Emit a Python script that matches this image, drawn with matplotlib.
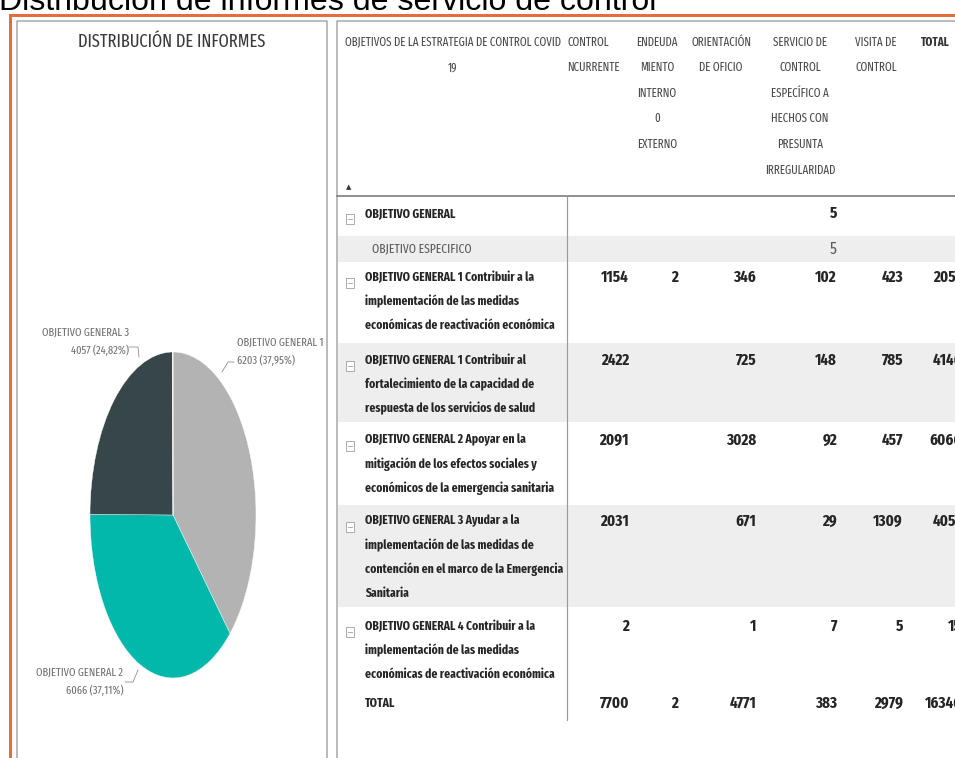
import matplotlib
matplotlib.use('Agg')
import matplotlib.pyplot as plt
from matplotlib import font_manager
from matplotlib.patches import Rectangle

# --- data -------------------------------------------------------------
titulo = 'Distribución de informes de servicio de control'
pie_titulo = 'DISTRIBUCIÓN DE INFORMES'
pie_objetivos = ['OBJETIVO GENERAL 1', 'OBJETIVO GENERAL 2', 'OBJETIVO GENERAL 3',
                 'OBJETIVO GENERAL 4', 'OBJETIVO GENERAL']
pie_informes = [6203, 6066, 4057, 15, 5]
pie_colores = ['#b3b3b3', '#01b8aa', '#374649', '#fd625e', '#f2c80f']

col_headers = ['OBJETIVOS DE LA ESTRATEGIA DE CONTROL COVID\n19',
               'CONTROL\nNCURRENTE',
               'ENDEUDA\nMIENTO\nINTERNO\n0\nEXTERNO',
               'ORIENTACIÓN\nDE OFICIO',
               'SERVICIO DE\nCONTROL\nESPECÍFICO A\nHECHOS CON\nPRESUNTA\nIRREGULARIDAD',
               'VISITA DE\nCONTROL',
               'TOTAL']

row_labels = [
    ['OBJETIVO GENERAL'],
    ['OBJETIVO ESPECIFICO'],
    ['OBJETIVO GENERAL 1 Contribuir a la', 'implementación de las medidas',
     'económicas de reactivación económica'],
    ['OBJETIVO GENERAL 1 Contribuir al', 'fortalecimiento de la capacidad de',
     'respuesta de los servicios de salud'],
    ['OBJETIVO GENERAL 2 Apoyar en la', 'mitigación de los efectos sociales y',
     'económicos de la emergencia sanitaria'],
    ['OBJETIVO GENERAL 3 Ayudar a la', 'implementación de las medidas de',
     'contención en el marco de la Emergencia', 'Sanitaria'],
    ['OBJETIVO GENERAL 4 Contribuir a la', 'implementación de las medidas',
     'económicas de reactivación económica'],
    ['TOTAL'],
]
control_concurrente = [None, None, 1154, 2422, 2091, 2031, 2, 7700]
endeudamiento = [None, None, 2, None, None, None, None, 2]
orientacion = [None, None, 346, 725, 3028, 671, 1, 4771]
servicio_especifico = [5, 5, 102, 148, 92, 29, 7, 383]
visita_control = [None, None, 423, 785, 457, 1309, 5, 2979]
total = [5, 5, 2057, 4146, 6066, 4057, 15, 16346]

# --- layout (pixels) --------------------------------------------------
W, H = 955, 758
row_y = [213, 249, 277, 360, 440, 521, 626, 703]
row_bands = [(236, 262), (343, 422), (505, 607)]
num_right = [629, 678, 756, 837, 903, 962]
head_x = [453, 567, 657, 721, 800, 855, 921]
head_ha = ['center', 'left', 'center', 'center', 'center', 'left', 'left']

fig = plt.figure(figsize=(W / 100, H / 100), dpi=100)
ax = fig.add_axes([0, 0, 1, 1])
ax.set_xlim(0, W)
ax.set_ylim(H, 0)
ax.axis('off')
renderer = fig.canvas.get_renderer()

# narrow font that is actually present, else DejaVu
names = {f.name for f in font_manager.fontManager.ttflist}
narrow = next((n for n in ['Fira Sans Extra Condensed', 'Open Sans Condensed',
                           'Sofia Sans Extra Condensed', 'Fira Sans Condensed',
                           'Barlow Condensed', 'Roboto Condensed', 'Asap Condensed',
                           'Archivo Narrow', 'Liberation Sans Narrow']
               if n in names), 'DejaVu Sans')
cond = dict(family=narrow)
arial = 'Liberation Sans' if 'Liberation Sans' in names else 'DejaVu Sans'


def fit(s, width, **kw):
    t = ax.text(0, 0, s, fontsize=10, **kw)
    w = t.get_window_extent(renderer=renderer).width
    t.remove()
    return 10 * width / w


px = 0.72  # one pixel in points

# title (cut off by the top edge)
fs = fit(titulo, 662, family=arial)
ax.text(-1, 10.5, titulo, fontsize=fs, family=arial, color='black', va='baseline')

# frames
ax.plot([9.5, 9.5, W + 5], [H + 5, 15, 15], color='#e46d3b', lw=3 * px, solid_joinstyle='miter')
ax.plot([17, 17, 326.5, 326.5], [H + 5, 21, 21, H + 5], color='#a6a6a6', lw=1.5 * px)
ax.plot([337, 337, W + 5], [H + 5, 21, 21], color='#a6a6a6', lw=1.5 * px)

# left panel: pie
fs = fit(pie_titulo, 187, **cond)
ax.text(172, 42, pie_titulo, fontsize=fs, color='#3a3a3a', ha='center', va='center', **cond)

cx, cy, rx, ry = 173, 515, 83, 163
pax = fig.add_axes([(cx - rx) / W, 1 - (cy + ry) / H, 2 * rx / W, 2 * ry / H])
pax.pie(pie_informes, colors=pie_colores, startangle=90, counterclock=False,
        wedgeprops=dict(edgecolor='white', linewidth=0.3))
pax.set_aspect('auto')
pax.set_xlim(-1, 1)
pax.set_ylim(-1, 1)

tot = total[-1]
lab_fs = fit('OBJETIVO GENERAL 3', 87, **cond)
lab_pos = [(237, 343, 'left'), (123, 673, 'right'), (129, 333, 'right')]
leaders = [([222, 228, 234], [372, 362, 362]),
           ([125, 133, 138], [682, 682, 670]),
           ([129, 138, 139], [347, 347, 357])]
for i, (x, y, ha) in enumerate(lab_pos):
    v = pie_informes[i]
    pct = f'{v / tot * 100:.2f}'.replace('.', ',')
    ax.text(x, y, pie_objetivos[i], fontsize=lab_fs, color='#707070',
            ha=ha, va='center', **cond)
    ax.text(x, y + 18, f'{v} ({pct}%)', fontsize=lab_fs, color='#707070',
            ha=ha, va='center', **cond)
    ax.plot(*leaders[i], color='#8a8a8a', lw=0.8 * px)

# right panel: table
for y0, y1 in row_bands:
    ax.add_patch(Rectangle((338, y0), W - 338, y1 - y0, facecolor='#eeeeee', edgecolor='none'))

head_fs = fit('OBJETIVOS DE LA ESTRATEGIA DE CONTROL COVID', 217, **cond)
for j, head in enumerate(col_headers):
    bold = head == 'TOTAL'
    for k, line in enumerate(head.split('\n')):
        ax.text(head_x[j], 42 + 25.6 * k, line, fontsize=head_fs, ha=head_ha[j], va='center',
                color='#333333' if bold else '#4a4a4a', weight='bold' if bold else 'normal', **cond)
ax.text(349, 187, '▲', fontsize=5, ha='center', va='center', color='#333333')
ax.plot([337, W + 5], [195.5, 195.5], color='#6e6e6e', lw=1.5 * px)
ax.plot([567, 567], [196, 720], color='#9a9a9a', lw=1.2 * px)

row_fs = fit('económicas de reactivación económica', 188, weight='bold', **cond)
num_fs = fit('2057', 29, weight='bold', **cond)
columns = [control_concurrente, endeudamiento, orientacion, servicio_especifico,
           visita_control, total]
for i, lines in enumerate(row_labels):
    y = row_y[i]
    especifico = lines[0] == 'OBJETIVO ESPECIFICO'
    weight = 'normal' if especifico else 'bold'
    color = '#5a5a5a' if especifico else '#252525'
    x = 372 if especifico else 365
    for k, line in enumerate(lines):
        ax.text(x, y + 24 * k, line, fontsize=row_fs, weight=weight, color=color,
                va='center', **cond)
    if not especifico and lines[0] != 'TOTAL':
        ax.add_patch(Rectangle((346, y + 1), 8, 10, facecolor='white', edgecolor='#9a9a9a',
                               lw=0.8 * px))
        ax.plot([348, 352], [y + 6, y + 6], color='#9a9a9a', lw=0.8 * px)
    for c, col in enumerate(columns):
        if col[i] is not None:
            ax.text(num_right[c], y, str(col[i]), fontsize=num_fs, weight=weight, color=color,
                    ha='right', va='center', **cond)

fig.savefig('out.png', dpi=100)
